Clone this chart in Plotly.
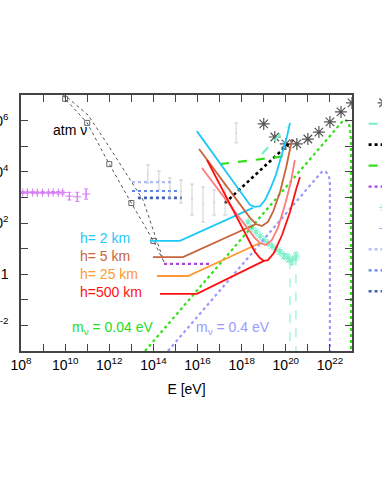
import plotly.graph_objects as go

# ---------------- data (log10 of E [eV], log10 of flux value) ----------------
# atmospheric neutrino bands (two dotted curves, first with square markers)
atm1_logE = [9.90, 10.0, 11.0, 12.0, 13.0, 14.0, 14.48]
atm1_logY = [7.00, 6.85, 5.91, 4.30, 2.78, 1.30, 0.48]
atm2_logE = [9.90, 11.04, 12.03, 12.94, 13.53, 14.48]
atm2_logY = [7.05, 6.22, 4.93, 3.68, 2.90, 0.48]

# magenta data points (left)
mag_logE = [8.08, 8.29, 8.53, 8.74, 8.98, 9.24, 9.46, 9.69, 9.89, 10.19, 10.55, 10.95]
mag_logY = [3.19, 3.20, 3.19, 3.18, 3.19, 3.18, 3.19, 3.18, 3.19, 3.05, 3.02, 3.13]
mag_err = [0.04, 0.04, 0.04, 0.04, 0.04, 0.04, 0.04, 0.05, 0.06, 0.15, 0.18, 0.2]

# gray error-bar data (lo / hi in log10)
gray_logE = [13.75, 14.25, 14.75, 15.25, 15.75, 16.25, 16.75, 17.25, 17.75]
gray_lo = [3.56, 3.29, 2.98, 2.78, 2.31, 2.04, 2.31, 2.31, 5.13]
gray_hi = [4.27, 4.03, 3.76, 3.68, 3.52, 3.41, 3.29, 3.48, 5.91]

# three blue dotted limits
lb_logE = [13.03, 14.89]; lb_logY = [3.60, 3.60]
mb_logE = [13.03, 15.07]; mb_logY = [3.25, 3.25]
db_logE = [13.30, 15.29]; db_logY = [2.98, 2.98]

# purple dotted limit
pd_logE = [14.48, 16.65]; pd_logY = [0.40, 0.40]

# black dotted, green dashed, aqua dashed
bd_logE = [17.24, 20.32]; bd_logY = [2.78, 5.24]
gd_logE = [17.02, 20.05]; gd_logY = [4.30, 4.62]
ad_logE = [18.92, 20.05]; ad_logY = [4.70, 5.75]

# aqua data points
aq_logE = [18.29, 18.47, 18.65, 18.83, 19.01, 19.19, 19.37, 19.55, 19.74, 19.92, 20.10, 20.28, 20.46]
aq_logY = [2.04, 1.80, 1.65, 1.49, 1.34, 1.22, 1.10, 0.98, 0.87, 0.71, 0.63, 0.52, 0.71]
aq_err = [0.05, 0.05, 0.05, 0.05, 0.05, 0.05, 0.06, 0.06, 0.08, 0.10, 0.15, 0.15, 0.15]
aq_ul_logE = [20.19, 20.46]
aq_ul_top = [0.55, 0.70]

# black asterisks
st_logE = [19.0, 19.5, 20.0, 20.5, 21.0, 21.5, 22.0, 22.5, 23.0]
st_logY = [5.87, 5.36, 5.09, 5.09, 5.28, 5.55, 5.95, 6.34, 6.69]

# Z-burst curves
g_logE = [13.62, 22.55, 22.68, 22.80, 22.90, 22.95, 22.96, 22.96]
g_logY = [-3.0, 5.95, 6.03, 5.98, 5.75, 5.3, 4.6, -3.5]
l_logE = [14.66, 21.55, 21.66, 21.80, 21.92, 21.99, 22.0, 22.0]
l_logY = [-3.0, 3.90, 4.03, 4.00, 3.90, 3.70, 3.4, -3.5]

# h curves: U shape and flat+rise
cy_u_logE = [15.97, 18.15, 18.38, 18.60, 18.83, 19.06, 19.28, 19.55, 19.83, 20.05, 20.19]
cy_u_logY = [5.59, 2.98, 2.70, 2.63, 2.66, 2.90, 3.29, 3.88, 4.66, 5.36, 5.91]
cy_f_logE = [13.85, 15.20, 18.51]
cy_f_logY = [1.30, 1.30, 2.59]

br_u_logE = [16.07, 18.38, 18.65, 18.92, 19.19, 19.42, 19.74, 20.01, 20.28]
br_u_logY = [4.89, 2.20, 1.96, 1.88, 2.04, 2.43, 3.21, 4.15, 5.24]
br_f_logE = [13.98, 15.34, 18.65]
br_f_logY = [0.67, 0.67, 1.96]

sa_u_logE = [16.20, 18.60, 18.83, 19.10, 19.37, 19.64, 19.96, 20.23, 20.41]
sa_u_logY = [4.15, 1.41, 1.22, 1.14, 1.34, 1.80, 2.70, 3.60, 4.46]
or_f_logE = [14.16, 15.57, 18.83]
or_f_logY = [-0.07, -0.07, 1.22]

rd_u_logE = [16.43, 18.60, 18.83, 19.01, 19.19, 19.46, 19.83, 20.19, 20.46, 20.64]
rd_u_logY = [4.46, 0.87, 0.63, 0.52, 0.55, 0.83, 1.53, 2.43, 3.29, 3.80]
rd_f_logE = [14.30, 15.97, 19.01]
rd_f_logY = [-0.77, -0.77, 0.52]

x_tick_exp = list(range(8, 24))
y_tick_exp = list(range(-3, 8))


def p(a):
    return [10.0 ** v for v in a]


fig = go.Figure()

C_CY = '#1ec8f8'
C_BR = '#c8643c'
C_SA = '#ff7a7a'
C_OR = '#ff9933'
C_RD = '#ff1010'
C_GR = '#33e01a'
C_LA = '#9a9aff'
C_AQ = '#77f0c8'
C_MG = '#d77cf5'


def line(xl, yl, color, width=1.8, dash='solid', name=None, legend=False, rank=1000):
    fig.add_trace(go.Scatter(x=p(xl), y=p(yl), mode='lines',
                             line=dict(color=color, width=width, dash=dash),
                             name=name or '', showlegend=legend, legendrank=rank,
                             hoverinfo='skip'))


def errs(vals, e):
    up = [10 ** (y + d) - 10 ** y for y, d in zip(vals, e)]
    dn = [10 ** y - 10 ** (y - d) for y, d in zip(vals, e)]
    return up, dn

# legend-ordered traces
fig.add_trace(go.Scatter(x=p(st_logE), y=p(st_logY), mode='markers',
                         marker=dict(symbol='asterisk-open', size=10, color='#555',
                                     line=dict(color='#555', width=1.2)),
                         name='data1', showlegend=True, legendrank=1))
line(ad_logE, ad_logY, C_AQ, 2.2, 'dash', 'aqua', True, 2)
line(bd_logE, bd_logY, 'black', 2.6, 'dot', 'black', True, 3)
line(gd_logE, gd_logY, C_GR, 2.2, 'dash', 'green', True, 4)
line(pd_logE, pd_logY, '#b040e0', 2.2, 'dot', 'purple', True, 5)

aq_up, aq_dn = errs(aq_logY, aq_err)
fig.add_trace(go.Scatter(x=p(aq_logE), y=p(aq_logY), mode='markers',
                         marker=dict(symbol='asterisk-open', size=7, color=C_AQ,
                                     line=dict(color=C_AQ, width=1)),
                         error_y=dict(type='data', symmetric=False, array=aq_up, arrayminus=aq_dn,
                                      color=C_AQ, thickness=1, width=2),
                         name='aqua data', showlegend=True, legendrank=6))
mg_up, mg_dn = errs(mag_logY, mag_err)
fig.add_trace(go.Scatter(x=p(mag_logE), y=p(mag_logY), mode='markers',
                         marker=dict(symbol='cross-thin-open', size=6, color=C_MG,
                                     line=dict(color=C_MG, width=1)),
                         error_y=dict(type='data', symmetric=False, array=mg_up, arrayminus=mg_dn,
                                      color=C_MG, thickness=1, width=2),
                         name='magenta data', showlegend=True, legendrank=7))
line(lb_logE, lb_logY, '#aabbff', 2.2, 'dot', 'lb', True, 8)
line(mb_logE, mb_logY, '#5f86e8', 2.2, 'dot', 'mb', True, 9)
line(db_logE, db_logY, '#4060b0', 2.6, 'dot', 'db', True, 10)
gmid = [(a + b) / 2 for a, b in zip(gray_lo, gray_hi)]
fig.add_trace(go.Scatter(x=p(gray_logE), y=p(gmid), mode='markers',
                         marker=dict(size=1, color='#aaa'),
                         error_y=dict(type='data', symmetric=False,
                                      array=[10 ** h - 10 ** m for h, m in zip(gray_hi, gmid)],
                                      arrayminus=[10 ** m - 10 ** l for l, m in zip(gray_lo, gmid)],
                                      color='#bbb', thickness=0.7, width=2),
                         name='gray data', showlegend=True, legendrank=11))

# atm curves
line(atm1_logE, atm1_logY, '#555', 1.0, 'dot')
line(atm2_logE, atm2_logY, '#555', 1.0, 'dot')
fig.add_trace(go.Scatter(x=p(atm1_logE[1:-1]), y=p(atm1_logY[1:-1]), mode='markers',
                         marker=dict(symbol='square-open', size=5, color='#666',
                                     line=dict(width=1)),
                         showlegend=False, hoverinfo='skip'))
# aqua upper limits
for e, t in zip(aq_ul_logE, aq_ul_top):
    line([e, e], [t, -3.5], C_AQ, 1.0, 'dash')

# Z-burst curves
line(g_logE, g_logY, C_GR, 2.2, 'dot')
line(l_logE, l_logY, C_LA, 2.2, 'dot')

# h curves
line(cy_u_logE, cy_u_logY, C_CY, 1.8)
line(cy_f_logE, cy_f_logY, C_CY, 1.8)
line(br_u_logE, br_u_logY, C_BR, 1.8)
line(br_f_logE, br_f_logY, C_BR, 1.8)
line(sa_u_logE, sa_u_logY, C_SA, 1.8)
line(or_f_logE, or_f_logY, C_OR, 1.8)
line(rd_u_logE, rd_u_logY, C_RD, 1.8)
line(rd_f_logE, rd_f_logY, C_RD, 1.8)

FONT = 'Liberation Sans, Arial, sans-serif'


def tt(e):
    if e % 2 == 0:
        if e == 0:
            return '1'
        return '10<sup>%d</sup>' % e
    return ' '

fig.update_xaxes(type='log', range=[8, 23],
                 tickvals=p(x_tick_exp), ticktext=[tt(e) for e in x_tick_exp],
                 ticks='inside', ticklen=7, tickcolor='#444', tickwidth=1.2,
                 showline=True, linecolor='#444', linewidth=1.5, mirror='ticks',
                 showgrid=False, zeroline=False,
                 tickfont=dict(family=FONT, size=14, color='black'),
                 title=dict(text='E [eV]', font=dict(family=FONT, size=14, color='black'), standoff=13))
fig.update_yaxes(type='log', range=[-3, 7],
                 tickvals=p(y_tick_exp), ticktext=[tt(e) for e in y_tick_exp],
                 ticks='inside', ticklen=7, tickcolor='#444', tickwidth=1.2,
                 showline=True, linecolor='#444', linewidth=1.5, mirror='ticks',
                 showgrid=False, zeroline=False, ticklabelstandoff=8,
                 tickfont=dict(family=FONT, size=14, color='black'))

ann = [
    ('atm ν', 10.22, 5.63, 'black', 'center'),
    ('h= 2 km', 10.58, 1.41, C_CY, 'left'),
    ('h= 5 km', 10.58, 0.71, C_BR, 'left'),
    ('h= 25 km', 10.58, 0.0, C_OR, 'left'),
    ('h=500 km', 10.58, -0.70, C_RD, 'left'),
    ('m<sub>ν</sub> = 0.04 eV', 10.22, -2.10, '#22dd22', 'left'),
    ('m<sub>ν</sub> = 0.4 eV', 15.84, -2.10, C_LA, 'left'),
]
for txt, xe, ye, col, xa in ann:
    fig.add_annotation(x=xe, y=ye, xref='x', yref='y', text=txt, showarrow=False,
                       xanchor=xa, yanchor='middle',
                       font=dict(family=FONT, size=14, color=col))

fig.update_layout(width=382, height=494,
                  margin=dict(l=21, r=30, t=95, b=143, autoexpand=False),
                  paper_bgcolor='white', plot_bgcolor='white',
                  showlegend=True,
                  legend=dict(x=1.035, y=1.03, xanchor='left', yanchor='top',
                              font=dict(family=FONT, size=13.8, color='black'),
                              tracegroupgap=0, bgcolor='rgba(0,0,0,0)'))

fig.write_html('out.html', config={'displayModeBar': False},
               post_script="document.body.style.margin='0px';")
